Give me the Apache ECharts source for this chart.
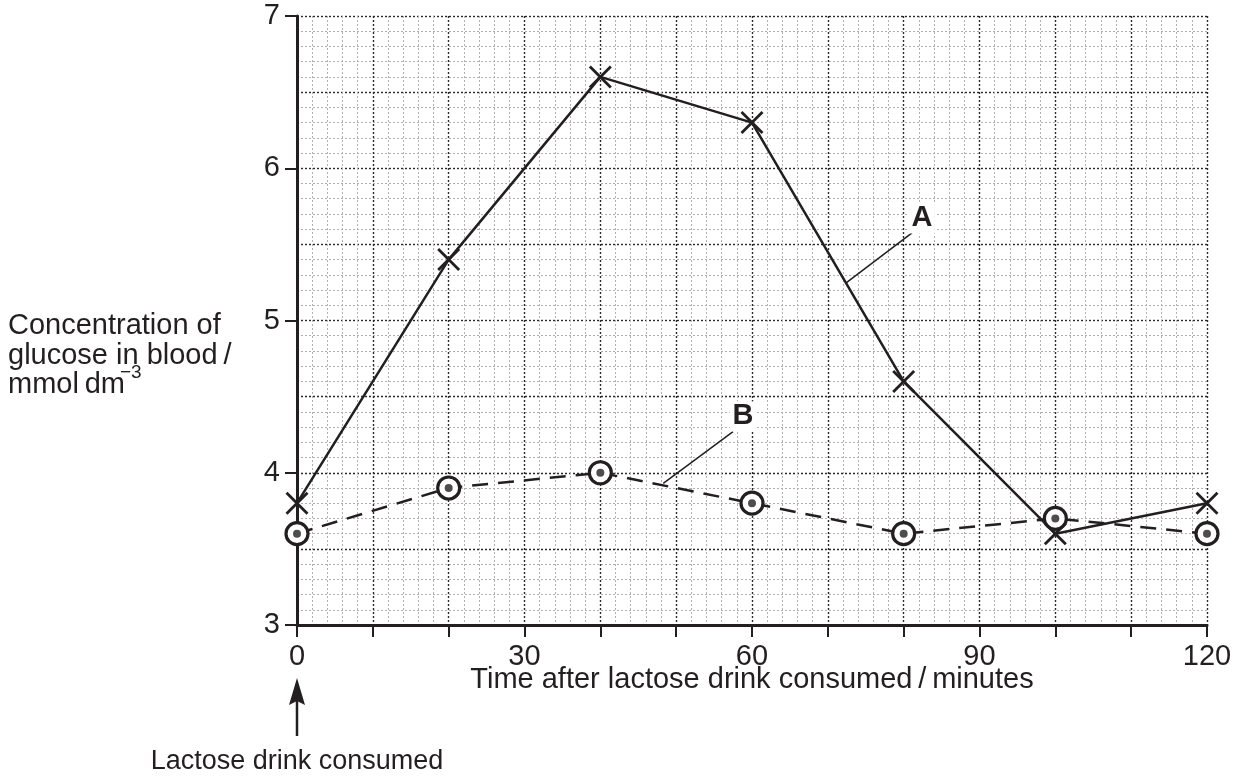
<!DOCTYPE html>
<html>
<head>
<meta charset="utf-8">
<script src="https://cdn.jsdelivr.net/npm/echarts@6/dist/echarts.min.js"></script>
<style>
  html, body { margin: 0; padding: 0; background: #fff; }
  #chart { width: 1239px; height: 781px; }
</style>
</head>
<body>
<div id="chart"></div>
<script>
// time after drink (minutes)
const times = [0, 20, 40, 60, 80, 100, 120]
// glucose concentration, mmol dm-3
const seriesA = [3.8, 5.4, 6.6, 6.3, 4.6, 3.6, 3.8]
const seriesB = [3.6, 3.9, 4.0, 3.8, 3.6, 3.7, 3.6]
const xTickLabels = [0, 30, 60, 90, 120]
const yTickLabels = [3, 4, 5, 6, 7]

// label anchors and leader lines, in data units
const labelA = { text: 'A', at: [82.4, 5.67], from: [81.1, 5.575], to: [72.5, 5.25] }
const labelB = { text: 'B', at: [58.8, 4.37], from: [57.5, 4.27], to: [48.3, 3.93] }

const FONT = '"Liberation Sans", Arial, sans-serif'
const INK = '#231f20'
const FS = 29

const chart = echarts.init(document.getElementById('chart'))

const pairs = (ys) => times.map((t, i) => [t, ys[i]])

function callout(lbl) {
  return {
    markLine: {
      silent: true,
      symbol: 'none',
      animation: false,
      label: { show: false },
      lineStyle: { color: INK, width: 1.5, type: 'solid' },
      data: [[{ coord: lbl.from }, { coord: lbl.to }]]
    },
    markPoint: {
      silent: true,
      animation: false,
      symbol: 'rect',
      symbolSize: [26, 30],
      itemStyle: { color: '#fff' },
      label: {
        show: true,
        position: 'inside',
        formatter: lbl.text,
        color: INK,
        fontFamily: FONT,
        fontWeight: 'bold',
        fontSize: FS
      },
      data: [{ coord: lbl.at }]
    }
  }
}

const option = {
  animation: false,
  backgroundColor: '#fff',
  textStyle: { fontFamily: FONT },
  grid: { left: 297, right: 32, top: 16, bottom: 156 },
  xAxis: {
    type: 'value',
    min: 0,
    max: 120,
    interval: 10,
    name: 'Time after lactose drink consumed\u2009/\u2009minutes',
    nameLocation: 'middle',
    nameGap: 40,
    nameMoveOverlap: false,
    nameTextStyle: { fontSize: FS, color: INK, fontFamily: FONT, verticalAlign: 'top' },
    axisLine: { show: true, onZero: false, lineStyle: { color: INK, width: 3 } },
    axisTick: { show: true, length: 12, lineStyle: { color: INK, width: 2 } },
    axisLabel: {
      fontSize: FS,
      color: INK,
      fontFamily: FONT,
      margin: 17,
      formatter: v => xTickLabels.includes(v) ? String(v) : ''
    },
    splitLine: { show: true, lineStyle: { color: '#2a2a2a', width: 1.4, type: [2, 2] } },
    minorTick: { show: false, splitNumber: 5 },
    minorSplitLine: { show: true, lineStyle: { color: '#b0b0b0', width: 1, type: [2, 2] } }
  },
  yAxis: [
    {
      // grid lines only
      type: 'value',
      min: 3,
      max: 7,
      interval: 0.5,
      axisLine: { show: false },
      axisTick: { show: false },
      axisLabel: { show: false },
      splitLine: { show: true, lineStyle: { color: '#2a2a2a', width: 1.4, type: [2, 2] } },
      minorTick: { show: false, splitNumber: 5 },
      minorSplitLine: { show: true, lineStyle: { color: '#b0b0b0', width: 1, type: [2, 2] } }
    },
    {
      // visible axis with integer ticks
      type: 'value',
      position: 'left',
      min: 3,
      max: 7,
      interval: 1,
      axisLine: { show: true, onZero: false, lineStyle: { color: INK, width: 3 } },
      axisTick: { show: true, length: 12, lineStyle: { color: INK, width: 2 } },
      axisLabel: {
        fontSize: FS,
        color: INK,
        fontFamily: FONT,
        margin: 17,
        formatter: v => yTickLabels.includes(v) ? String(v) : ''
      },
      splitLine: { show: false }
    }
  ],
  series: [
    Object.assign({
      name: 'A',
      type: 'line',
      yAxisIndex: 0,
      data: pairs(seriesA),
      z: 5,
      symbol: 'path://M0,0L20,20M20,0L0,20',
      symbolSize: 21,
      showAllSymbol: true,
      lineStyle: { color: INK, width: 2.5 },
      itemStyle: { color: 'rgba(0,0,0,0)', borderColor: INK, borderWidth: 2.8 }
    }, callout(labelA)),
    Object.assign({
      name: 'B',
      type: 'line',
      yAxisIndex: 0,
      data: pairs(seriesB),
      z: 4,
      symbol: 'circle',
      symbolSize: 22,
      lineStyle: { color: INK, width: 2.5, type: [16, 10] },
      itemStyle: { color: '#fff', borderColor: INK, borderWidth: 3.2 }
    }, callout(labelB)),
    {
      name: 'B dots',
      type: 'scatter',
      yAxisIndex: 0,
      data: pairs(seriesB),
      z: 6,
      symbol: 'circle',
      symbolSize: 8,
      itemStyle: { color: INK }
    }
  ]
}

chart.setOption(option)

// y-axis title, arrow and note under the x axis
const x0 = chart.convertToPixel({ xAxisIndex: 0 }, 0)
const titleStyle = { fontSize: FS, fill: INK, fontFamily: FONT }
chart.setOption({
  graphic: [
    { type: 'text', left: 8, top: 311, style: Object.assign({ text: 'Concentration of' }, titleStyle) },
    { type: 'text', left: 8, top: 341, style: Object.assign({ text: 'glucose in blood\u2009/' }, titleStyle) },
    { type: 'text', left: 8, top: 370, style: Object.assign({ text: 'mmol\u2009dm' }, titleStyle) },
    { type: 'text', left: 120, top: 363, style: Object.assign({}, titleStyle, { text: '\u22123', fontSize: 19 }) },
    {
      type: 'line',
      shape: { x1: x0, y1: 700, x2: x0, y2: 736 },
      style: { stroke: INK, lineWidth: 2.5 }
    },
    {
      type: 'polygon',
      shape: { points: [[x0, 678], [x0 - 8, 705], [x0, 701], [x0 + 8, 705]] },
      style: { fill: INK }
    },
    {
      type: 'text',
      x: x0,
      y: 762,
      style: Object.assign({ text: 'Lactose drink consumed', align: 'center', verticalAlign: 'middle' }, titleStyle, { fontSize: 27 })
    }
  ]
})
</script>
</body>
</html>
